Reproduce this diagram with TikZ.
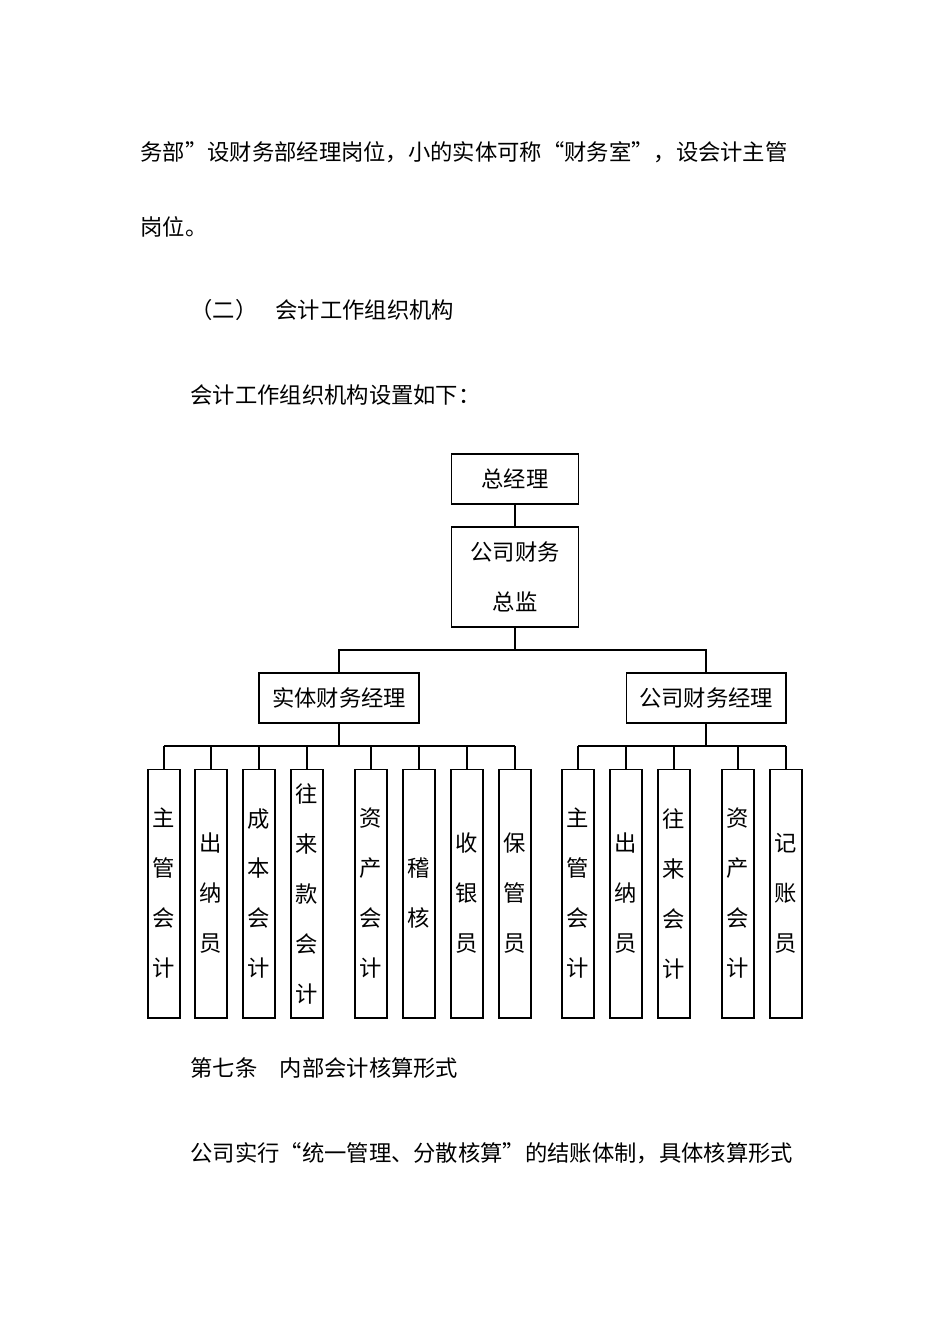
\documentclass[tikz,border=0pt]{standalone}
\usepackage{fontspec}
\setmainfont{Noto Sans CJK SC}
\usetikzlibrary{positioning}
\tikzset{
  para/.style={anchor=west,inner sep=0pt},
  mgrbox/.style={draw,minimum width=3.2cm,minimum height=1cm,inner sep=0pt},
  staffbox/.style={draw,minimum width=0.64cm,minimum height=4.98cm,inner sep=0pt,align=center}
}
\begin{document}
\begin{tikzpicture}[x=0.02cm,y=-0.02cm,font=\fontsize{12.7}{28.45}\selectfont,line width=0.6pt]
                \useasboundingbox (0,0) rectangle (950,1344);
                % running text
                \node[para] (l1) at (140,152) {务部”设财务部经理岗位，小的实体可称“财务室”，设会计主管};
                \node[para] (l2) at (140,227) {岗位。};
                \node[para] (h1) at (190,310) {（二）};
                \node[para] (h2) at (275,310) {会计工作组织机构};
                \node[para] (l3) at (190,395) {会计工作组织机构设置如下：};
                \node[para] (l4) at (190,1068) {第七条\quad 内部会计核算形式};
                \node[para] (l5) at (190,1153) {公司实行“统一管理、分散核算”的结账体制，具体核算形式};

                % top of the chart
                \node[draw,minimum width=2.54cm,minimum height=1cm,inner sep=0pt] (gm) at (515,479) {总经理};
                \node[draw,minimum width=2.54cm,minimum height=2cm,inner sep=0pt,align=center] (cfo) at (515,577) {公司财务\\总监};
                \draw (gm) -- (cfo);
                \node[mgrbox] (em) at (339,698) {实体财务经理};
                \node[mgrbox] (cm) at (706,698) {公司财务经理};
                \coordinate (bus) at (515,650);
                \draw (cfo.south) -- (bus);
                \draw (em.north) |- (bus) -| (cm.north);
                \draw (em.south) -- (339,746);
                \draw (cm.south) -- (706,746);
                \draw (164,746) -- (515,746);
                \draw (578,746) -- (786,746);

                % staff under the entity manager
                \foreach \x/\n/\t in {164/e1/{主\\管\\会\\计},211/e2/{出\\纳\\员},259/e3/{成\\本\\会\\计},
                    307/e4/{往\\来\\款\\会\\计},371/e5/{资\\产\\会\\计},419/e6/{稽\\核},
                    467/e7/{收\\银\\员},515/e8/{保\\管\\员}}{
                    \node[staffbox] (\n) at (\x,893.5) {\t};
                    \draw (\n.north) -- (\x,746);
                }
                % staff under the company manager
                \foreach \x/\n/\t in {578/c1/{主\\管\\会\\计},626/c2/{出\\纳\\员},674/c3/{往\\来\\会\\计},
                    738/c4/{资\\产\\会\\计},786/c5/{记\\账\\员}}{
                    \node[staffbox] (\n) at (\x,893.5) {\t};
                    \draw (\n.north) -- (\x,746);
                }
\end{tikzpicture}
\end{document}
